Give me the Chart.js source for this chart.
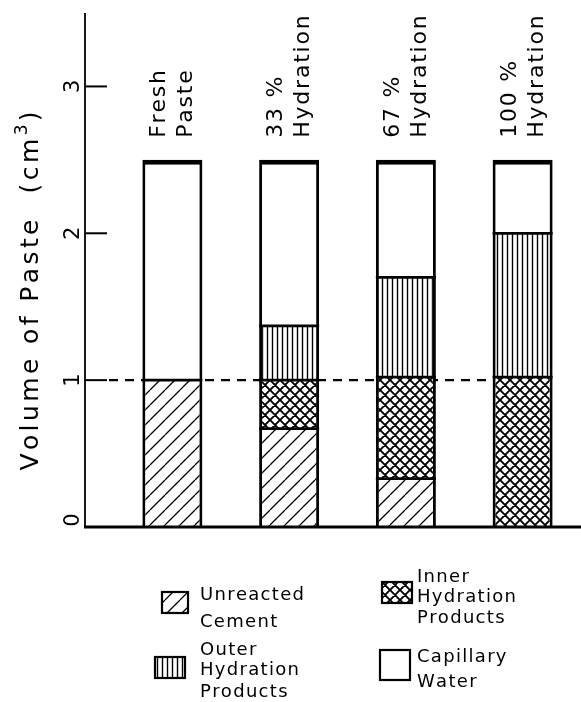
<!DOCTYPE html>
<html>
<head>
<meta charset="utf-8">
<script src="https://cdn.jsdelivr.net/npm/chart.js@4.4.0/dist/chart.umd.min.js"></script>
<style>
  html, body { margin: 0; padding: 0; background: #fff; }
  canvas { display: block; }
</style>
</head>
<body>
<canvas id="paste-chart" width="581" height="702"></canvas>
<script>
/* ===== Volume of cement paste at various stages of hydration ===== */

const categories = [['Fresh', 'Paste'], ['33 %', 'Hydration'], ['67 %', 'Hydration'], ['100 %', 'Hydration']];

// volumes in cm3, bottom to top of each bar
const unreactedCement = [1.00, 0.67, 0.33, 0];
const innerProducts   = [0,    0.33, 0.69, 1.02];
const outerProducts   = [0,    0.37, 0.68, 0.98];
const capillaryWater  = [1.50, 1.13, 0.80, 0.50];

const yTicks = [0, 1, 2, 3];
const yMax = 3.5;
const refLine = 1;

const legendLabels = [
  ['Unreacted', 'Cement'],
  ['Inner', 'Hydration', 'Products'],
  ['Outer', 'Hydration', 'Products'],
  ['Capillary', 'Water']
];

const FONT = '"DejaVu Sans", sans-serif';

/** Build a small tiled hatch pattern */
function makePattern(kind) {
  const s = kind === 'diag' ? 15 : kind === 'cross' ? 10 : 5;
  const c = document.createElement('canvas');
  c.width = s; c.height = s;
  const g = c.getContext('2d');
  g.fillStyle = '#fff';
  g.fillRect(0, 0, s, s);
  g.strokeStyle = '#000';
  g.beginPath();
  if (kind === 'diag') {
    g.lineWidth = 1.3;
    for (const o of [-s, 0, s]) { g.moveTo(o, s); g.lineTo(o + s, 0); }
  } else if (kind === 'cross') {
    g.lineWidth = 1.9;
    for (const o of [-s, 0, s]) {
      g.moveTo(o, s); g.lineTo(o + s, 0);
      g.moveTo(o, 0); g.lineTo(o + s, s);
    }
  } else if (kind === 'vert') {
    g.lineWidth = 1.4;
    g.moveTo(2.5, 0); g.lineTo(2.5, s);
  }
  g.stroke();
  return g.createPattern(c, 'repeat');
}

const patDiag  = makePattern('diag');
const patCross = makePattern('cross');
const patVert  = makePattern('vert');

/** Draw text one char at a time with extra letter spacing */
function textWidth(ctx, text, spacing) {
  let w = 0;
  for (const ch of text) w += ctx.measureText(ch).width + spacing;
  return w - spacing;
}
function drawSpaced(ctx, text, x, y, spacing) {
  for (const ch of text) {
    ctx.fillText(ch, x, y);
    x += ctx.measureText(ch).width + spacing;
  }
  return x;
}
/** Text reading bottom-to-top, baseline at bx, starting at screen y sy */
function drawUp(ctx, text, bx, sy, font, spacing) {
  ctx.save();
  ctx.font = font;
  ctx.translate(bx, sy);
  ctx.rotate(-Math.PI / 2);
  drawSpaced(ctx, text, 0, 0, spacing);
  ctx.restore();
}

const decorPlugin = {
  id: 'decor',
  beforeDatasetsDraw(chart) {
    const { ctx, scales: { y } } = chart;
    const axisX = 85;
    // dashed reference line, stops at last bar
    const lastBar = chart.getDatasetMeta(0).data[categories.length - 1];
    const yp = y.getPixelForValue(refLine);
    ctx.save();
    ctx.strokeStyle = '#000';
    ctx.lineWidth = 2.2;
    ctx.setLineDash([9, 7]);
    ctx.beginPath();
    ctx.moveTo(axisX + 24, yp);
    ctx.lineTo(lastBar.x - lastBar.width / 2, yp);
    ctx.stroke();
    ctx.restore();
  },
  afterDatasetsDraw(chart) {
    // solid joints between stacked segments
    const { ctx } = chart;
    ctx.save();
    ctx.strokeStyle = '#000';
    ctx.lineWidth = 2.8;
    chart.data.datasets.forEach((ds, di) => {
      if (di === chart.data.datasets.length - 1) return;
      chart.getDatasetMeta(di).data.forEach((bar, i) => {
        if (!ds.data[i]) return;
        ctx.beginPath();
        ctx.moveTo(bar.x - bar.width / 2, bar.y);
        ctx.lineTo(bar.x + bar.width / 2, bar.y);
        ctx.stroke();
      });
    });
    ctx.restore();
  },
  afterDraw(chart) {
    const { ctx, chartArea, scales: { x, y } } = chart;
    const axisX = 85;
    ctx.save();
    ctx.fillStyle = '#000';
    ctx.strokeStyle = '#000';
    ctx.textBaseline = 'alphabetic';

    // y axis line
    ctx.lineWidth = 1.8;
    ctx.beginPath();
    ctx.moveTo(axisX, chartArea.top);
    ctx.lineTo(axisX, chartArea.bottom);
    ctx.stroke();
    // baseline
    ctx.lineWidth = 3;
    ctx.beginPath();
    ctx.moveTo(axisX - 1, chartArea.bottom);
    ctx.lineTo(chart.width, chartArea.bottom);
    ctx.stroke();

    // ticks (inside) and rotated labels
    const tickFont = '21px ' + FONT;
    ctx.font = tickFont;
    yTicks.forEach(v => {
      const yp = y.getPixelForValue(v);
      if (v > 0) {
        ctx.lineWidth = 2;
        ctx.beginPath();
        ctx.moveTo(axisX, yp);
        ctx.lineTo(axisX + 22, yp);
        ctx.stroke();
      }
      const label = String(v);
      const w = textWidth(ctx, label, 0);
      const cy = Math.min(yp, chartArea.bottom - 7);
      drawUp(ctx, label, 79, cy + w / 2, tickFont, 0);
    });

    // y axis title with superscript
    const tFont = '25px ' + FONT;
    const sFont = '17px ' + FONT;
    const sp = 3.4;
    const part1 = 'Volume of Paste  (cm';
    ctx.font = tFont;
    const w1 = textWidth(ctx, part1, sp);
    const wClose = ctx.measureText(')').width;
    ctx.font = sFont;
    const wSup = ctx.measureText('3').width;
    const total = w1 + sp + wSup + sp + wClose;
    const midY = (chartArea.top + chartArea.bottom) / 2 + 21;
    ctx.save();
    ctx.translate(38, midY + total / 2);
    ctx.rotate(-Math.PI / 2);
    ctx.font = tFont;
    let px = drawSpaced(ctx, part1, 0, 0, sp);
    ctx.font = sFont;
    ctx.fillText('3', px, -11);
    px += wSup + sp;
    ctx.font = tFont;
    ctx.fillText(')', px, 0);
    ctx.restore();

    // category labels above bars
    const cFont = '22px ' + FONT;
    categories.forEach((lines, i) => {
      const cx = x.getPixelForValue(i);
      const top = y.getPixelForValue(unreactedCement[i] + innerProducts[i] + outerProducts[i] + capillaryWater[i]);
      drawUp(ctx, lines[0], cx - 7, top - 22, cFont, 1.8);
      drawUp(ctx, lines[1], cx + 20, top - 22, cFont, 1.8);
    });

    // legend
    const swatches = [
      { fill: patDiag,  r: [162, 592, 26, 21], tx: 200, base: [600, 627] },
      { fill: patCross, r: [382, 582, 30, 21], tx: 417, base: [582, 602, 623] },
      { fill: patVert,  r: [155, 657, 30, 21], tx: 200, base: [655, 675, 697] },
      { fill: '#fff',   r: [380, 650, 30, 30], tx: 417, base: [662, 687] }
    ];
    ctx.font = '18px ' + FONT;
    swatches.forEach((s, i) => {
      const [rx, ry, rw, rh] = s.r;
      ctx.fillStyle = s.fill;
      ctx.fillRect(rx, ry, rw, rh);
      ctx.lineWidth = 2.2;
      ctx.strokeStyle = '#000';
      ctx.strokeRect(rx, ry, rw, rh);
      ctx.fillStyle = '#000';
      legendLabels[i].forEach((t, k) => drawSpaced(ctx, t, s.tx, s.base[k], 1.3));
    });
    ctx.restore();
  }
};

const side = 3;

new Chart(document.getElementById('paste-chart'), {
  type: 'bar',
  data: {
    labels: categories,
    datasets: [
      { label: 'Unreacted Cement', data: unreactedCement, backgroundColor: patDiag,
        borderWidth: { left: side, right: side, top: 0, bottom: 0 } },
      { label: 'Inner Hydration Products', data: innerProducts, backgroundColor: patCross,
        borderWidth: { left: side, right: side, top: 0, bottom: 0 } },
      { label: 'Outer Hydration Products', data: outerProducts, backgroundColor: patVert,
        borderWidth: { left: side, right: side, top: 0, bottom: 0 } },
      { label: 'Capillary Water', data: capillaryWater, backgroundColor: '#fff',
        borderWidth: { left: side, right: side, top: 5, bottom: 0 } }
    ].map(d => Object.assign(d, {
      borderColor: '#000',
      borderSkipped: false,
      barThickness: 60,
      inflateAmount: 0
    }))
  },
  options: {
    responsive: false,
    animation: false,
    layout: { padding: { left: 114, right: -4, top: 13, bottom: 175 } },
    plugins: { legend: { display: false }, tooltip: { enabled: false } },
    scales: {
      x: { stacked: true, display: false },
      y: { stacked: true, display: false, min: 0, max: yMax }
    }
  },
  plugins: [decorPlugin]
});
</script>
</body>
</html>
